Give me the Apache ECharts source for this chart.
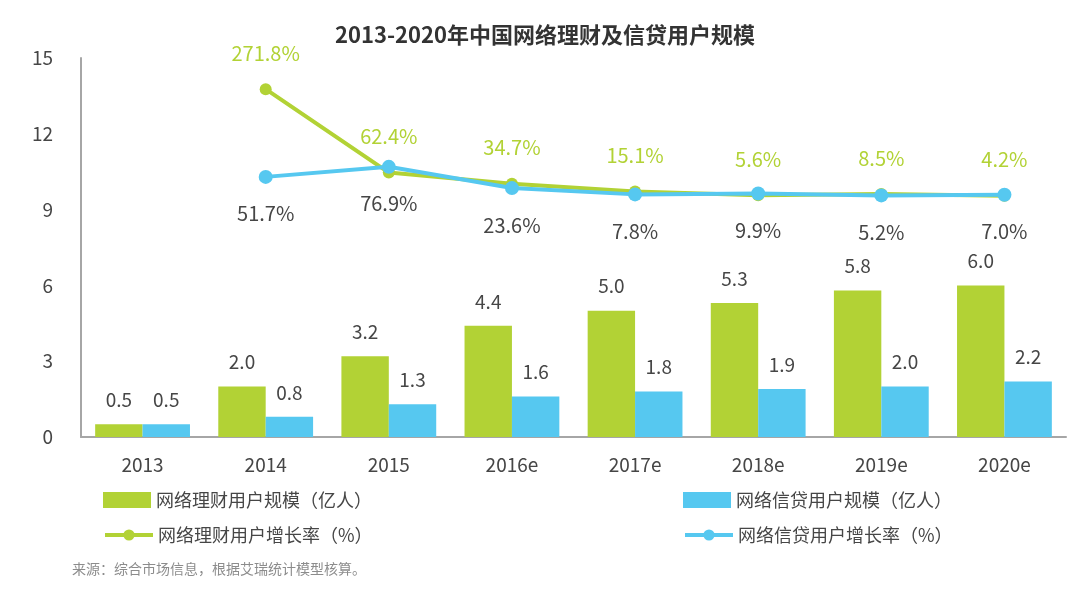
<!DOCTYPE html>
<html>
<head>
<meta charset="utf-8">
<script src="https://cdn.jsdelivr.net/npm/echarts@6/dist/echarts.min.js"></script>
<style>
  html, body { margin: 0; padding: 0; background: #fff; }
  #chart { width: 1090px; height: 593px; }
</style>
</head>
<body>
<div id="chart"></div>
<script>
const years = ['2013', '2014', '2015', '2016e', '2017e', '2018e', '2019e', '2020e'];
const financeUsers = [0.5, 2.0, 3.2, 4.4, 5.0, 5.3, 5.8, 6.0];
const creditUsers = [0.5, 0.8, 1.3, 1.6, 1.8, 1.9, 2.0, 2.2];
const financeGrowth = [null, 271.8, 62.4, 34.7, 15.1, 5.6, 8.5, 4.2];
const creditGrowth = [null, 51.7, 76.9, 23.6, 7.8, 9.9, 5.2, 7.0];

const green = '#b2d235';
const blue = '#56c8f0';
const textColor = '#464646';
const font = '"Noto Sans CJK SC", "Noto Sans", sans-serif';

const chart = echarts.init(document.getElementById('chart'));

function legendAt(name, left, top, isLine) {
    const lg = {
        data: [name],
        left: left,
        top: top,
        itemWidth: 48,
        itemHeight: isLine ? 14 : 16,
        textStyle: { fontFamily: font, fontSize: 18, color: textColor }
    };
    if (isLine) {
        lg.lineStyle = { width: 4 };
    } else {
        lg.icon = 'rect';
    }
    return lg;
}

const option = {
    textStyle: { fontFamily: font },
    title: {
        text: '2013-2020年中国网络理财及信贷用户规模',
        left: 'center',
        top: 19,
        textStyle: { fontFamily: font, fontSize: 22, fontWeight: 'bold', color: '#333' }
    },
    graphic: [{
        type: 'text',
        left: 72,
        top: 562,
        style: {
            text: '来源：综合市场信息，根据艾瑞统计模型核算。',
            fontFamily: font,
            fontSize: 14,
            fill: '#8c8c8c'
        }
    }],
    legend: [
        legendAt('网络理财用户规模（亿人）', 98, 486, false),
        legendAt('网络信贷用户规模（亿人）', 678, 486, false),
        legendAt('网络理财用户增长率（%）', 98, 521, true),
        legendAt('网络信贷用户增长率（%）', 678, 521, true)
    ],
    grid: { left: 81, right: 24, top: 58, bottom: 156 },
    xAxis: {
        type: 'category',
        data: years,
        axisLine: { lineStyle: { color: '#a6a6a6', width: 2 } },
        axisTick: { show: false },
        axisLabel: { fontSize: 19, color: textColor, margin: 18 }
    },
    yAxis: [{
        type: 'value',
        min: 0,
        max: 15,
        interval: 3,
        axisLine: { show: true, lineStyle: { color: '#a6a6a6', width: 2 } },
        axisTick: { show: false },
        splitLine: { show: false },
        axisLabel: { fontSize: 19, color: textColor, margin: 28 }
    }, {
        // hidden scale for the growth-rate lines
        type: 'value',
        min: -601,
        max: 350,
        show: false,
        splitLine: { show: false }
    }],
    series: [
        {
            name: '网络理财用户规模（亿人）',
            type: 'bar',
            data: financeUsers,
            barGap: 0,
            barCategoryGap: '23%',
            itemStyle: { color: green },
            label: {
                show: true, position: 'top', distance: 15,
                fontSize: 19, color: textColor,
                formatter: p => p.value.toFixed(1)
            }
        },
        {
            name: '网络信贷用户规模（亿人）',
            type: 'bar',
            data: creditUsers,
            itemStyle: { color: blue },
            label: {
                show: true, position: 'top', distance: 15,
                fontSize: 19, color: textColor,
                formatter: p => p.value.toFixed(1)
            }
        },
        {
            name: '网络理财用户增长率（%）',
            type: 'line',
            yAxisIndex: 1,
            data: financeGrowth,
            symbol: 'circle',
            symbolSize: 12,
            lineStyle: { color: green, width: 4 },
            itemStyle: { color: green },
            label: {
                show: true, position: 'top', distance: 20,
                fontSize: 20, color: green,
                formatter: p => p.value.toFixed(1) + '%'
            }
        },
        {
            name: '网络信贷用户增长率（%）',
            type: 'line',
            yAxisIndex: 1,
            data: creditGrowth,
            symbol: 'circle',
            symbolSize: 14,
            lineStyle: { color: blue, width: 4 },
            itemStyle: { color: blue },
            label: {
                show: true, position: 'bottom', distance: 20,
                fontSize: 20, color: textColor,
                formatter: p => p.value.toFixed(1) + '%'
            }
        }
    ]
};

chart.setOption(option);
</script>
</body>
</html>
